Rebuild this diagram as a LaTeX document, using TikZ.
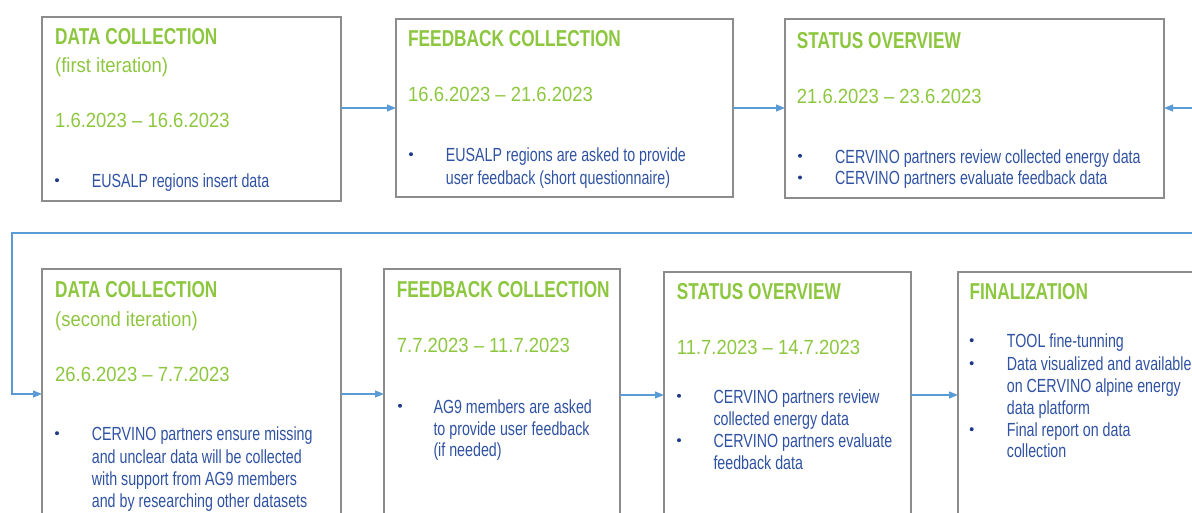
\documentclass[tikz,border=0pt]{standalone}
\usepackage{fontspec}
\setmainfont{Liberation Sans}[FakeStretch=0.75]
\newfontfamily\datefont{Liberation Sans}[FakeStretch=0.9]
\usetikzlibrary{arrows.meta}

\definecolor{lime}{HTML}{8DC63F}
\definecolor{txtblue}{HTML}{2F52A2}
\definecolor{navy}{HTML}{1F3A8A}
\definecolor{framegray}{HTML}{8C8C8C}
\definecolor{flowblue}{HTML}{5B9BD5}

\tikzset{
  box/.style={draw=framegray, line width=1.3pt, anchor=north west,
    inner sep=0pt, outer sep=0pt},
  ttl/.style={anchor=base west, inner sep=0pt, text=lime,
    font=\fontsize{23}{27}\selectfont\bfseries},
  dte/.style={anchor=base west, inner sep=0pt, text=lime,
    font=\datefont\fontsize{20.5}{24}\selectfont},
  txt/.style={anchor=base west, inner sep=0pt, text=txtblue,
    font=\fontsize{19}{22}\selectfont},
  dot/.style={circle, fill=navy, inner sep=0pt, minimum size=4pt},
  flow/.style={draw=flowblue, line width=1.2pt},
  arr/.style={flow, -{Triangle[length=9pt,width=7pt]}}
}

\begin{document}
\begin{tikzpicture}[x=1pt, y=-1pt]
\useasboundingbox (0,0) rectangle (1192,513);
\clip (0,0) rectangle (1192,513);

% ---------- first row ----------
\node[box, minimum width=299pt, minimum height=184pt] (b1) at (42,17) {};
\node[ttl] (b1t) at (55,44.3) {DATA COLLECTION};
\node[dte] (b1s) at (55,72.3) {(first iteration)};
\node[dte] (b1d) at (55,127.3) {1.6.2023 – 16.6.2023};
\node[dot] (b1p1) at (57,180.2) {};
\node[txt] (b1l1) at (91.7,187.7) {EUSALP regions insert data};

\node[box, minimum width=337pt, minimum height=178pt] (b2) at (396,19) {};
\node[ttl] (b2t) at (408,46.7) {FEEDBACK COLLECTION};
\node[dte] (b2d) at (408,101.7) {16.6.2023 – 21.6.2023};
\node[dot] (b2p1) at (411,154.2) {};
\node[txt] (b2l1) at (445.7,161.7) {EUSALP regions are asked to provide};
\node[txt] (b2l2) at (445.7,185) {user feedback (short questionnaire)};

\node[box, minimum width=379pt, minimum height=179pt] (b3) at (785,19) {};
\node[ttl] (b3t) at (796.7,48.3) {STATUS OVERVIEW};
\node[dte] (b3d) at (796.7,103.3) {21.6.2023 – 23.6.2023};
\node[dot] (b3p1) at (800,155.8) {};
\node[txt] (b3l1) at (835,163.3) {CERVINO partners review collected energy data};
\node[dot] (b3p2) at (800,177.5) {};
\node[txt] (b3l2) at (835,185) {CERVINO partners evaluate feedback data};

% ---------- second row ----------
\node[box, minimum width=299pt, minimum height=300pt] (b4) at (42,269) {};
\node[ttl] (b4t) at (55,297.3) {DATA COLLECTION};
\node[dte] (b4s) at (55,326.7) {(second iteration)};
\node[dte] (b4d) at (55,381) {26.6.2023 – 7.7.2023};
\node[dot] (b4p1) at (57,433.2) {};
\foreach \yy/\line [count=\i] in {440.7/CERVINO partners ensure missing,
    463.3/and unclear data will be collected,
    485/with support from AG9 members,
    507.7/and by researching other datasets}
  \node[txt] (b4l\i) at (91.7,\yy) {\line};

\node[box, minimum width=236pt, minimum height=300pt] (b5) at (384,269) {};
\node[ttl] (b5t) at (396.7,297.3) {FEEDBACK COLLECTION};
\node[dte] (b5d) at (396.7,352.7) {7.7.2023 – 11.7.2023};
\node[dot] (b5p1) at (400,405.8) {};
\foreach \yy/\line [count=\i] in {413.3/AG9 members are asked,
    435/to provide user feedback,
    456.7/(if needed)}
  \node[txt] (b5l\i) at (433.3,\yy) {\line};

\node[box, minimum width=247pt, minimum height=300pt] (b6) at (664,272) {};
\node[ttl] (b6t) at (676.7,299.3) {STATUS OVERVIEW};
\node[dte] (b6d) at (676.7,354) {11.7.2023 – 14.7.2023};
\node[dot] (b6p1) at (679,395.8) {};
\node[dot] (b6p2) at (679,440.2) {};
\foreach \yy/\line [count=\i] in {403.3/CERVINO partners review,
    425.7/collected energy data,
    447.7/CERVINO partners evaluate,
    469.3/feedback data}
  \node[txt] (b6l\i) at (713.3,\yy) {\line};

\node[box, minimum width=260pt, minimum height=300pt] (b7) at (958,272) {};
\node[ttl] (b7t) at (969.3,300) {FINALIZATION};
\node[dot] (b7p1) at (971.7,340.2) {};
\node[dot] (b7p2) at (971.7,363.2) {};
\node[dot] (b7p3) at (971.7,429.2) {};
\foreach \yy/\line [count=\i] in {347.7/TOOL fine-tunning,
    370.7/Data visualized and available,
    392.7/on CERVINO alpine energy,
    414.3/data platform,
    436.7/Final report on data,
    457.3/collection}
  \node[txt] (b7l\i) at (1006.7,\yy) {\line};

% ---------- connectors ----------
\coordinate (inR) at (1200,108);
\coordinate (loopR) at (1200,233);
\coordinate (loopL) at (12,233);
\coordinate (loopB) at (12,394);

\draw[arr] (b1.east |- 0,108) -- (b2.west |- 0,108);
\draw[arr] (b2.east |- 0,108) -- (b3.west |- 0,108);
\draw[arr] (inR) -- (b3.east |- inR);
\draw[arr] (loopR) -- (loopL) -- (loopB) -- (b4.west |- loopB);
\draw[arr] (b4.east |- 0,394) -- (b5.west |- 0,394);
\draw[arr] (b5.east |- 0,395) -- (b6.west |- 0,395);
\draw[arr] (b6.east |- 0,395) -- (b7.west |- 0,395);
\end{tikzpicture}
\end{document}
